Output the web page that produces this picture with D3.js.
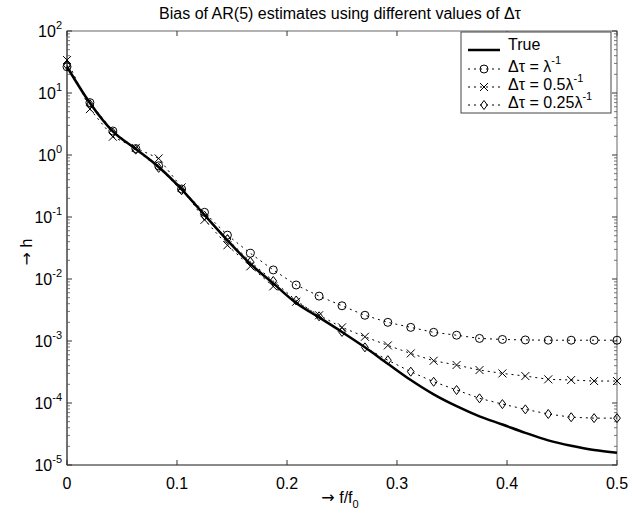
<!DOCTYPE html>
<html>
<head>
<meta charset="utf-8">
<script src="https://cdn.jsdelivr.net/npm/d3@7"></script>
<style>
  body { margin: 0; background: #fff; }
  text { font-family: "Liberation Sans", Arial, sans-serif; fill: #000; }
  .arrow { font-family: "DejaVu Sans", sans-serif; }
</style>
</head>
<body>
<svg id="chart" width="639" height="513"></svg>
<script>
// f/f0 sample points (k/48, k = 0..24)
const freq = d3.range(0, 25).map(k => k / 48);

// true bias curve
const trueVals = [26.5, 6.9, 2.4, 1.25, 0.64, 0.28, 0.108, 0.042, 0.0175, 0.0085, 0.0041,
  0.0024, 0.0014, 7.9e-4, 4.3e-4, 2.35e-4, 1.38e-4, 8.9e-5, 6.1e-5, 4.5e-5, 3.3e-5,
  2.5e-5, 2.04e-5, 1.74e-5, 1.58e-5];
// dtau = 1/lambda
const circVals = [26.5, 7.0, 2.44, 1.27, 0.67, 0.283, 0.119, 0.051, 0.026, 0.014, 0.0080,
  0.0053, 0.0037, 0.0026, 0.0020, 0.00166, 0.00138, 0.00124, 0.0011, 0.00106, 0.00104,
  0.00103, 0.00103, 0.00103, 0.00103];
// dtau = 0.5/lambda
const crossVals = [34, 5.5, 1.97, 1.3, 0.88, 0.30, 0.09, 0.035, 0.016, 0.0076, 0.0043,
  0.0026, 0.00166, 0.00117, 8.5e-4, 6.3e-4, 4.8e-4, 4.1e-4, 3.4e-4, 3.0e-4, 2.72e-4,
  2.41e-4, 2.35e-4, 2.26e-4, 2.26e-4];
// dtau = 0.25/lambda
const diamVals = [28, 6.6, 2.3, 1.22, 0.62, 0.27, 0.105, 0.044, 0.019, 0.0093, 0.0045,
  0.0025, 0.0014, 7.9e-4, 4.9e-4, 3.2e-4, 2.2e-4, 1.62e-4, 1.19e-4, 9.6e-5, 7.9e-5,
  6.65e-5, 5.9e-5, 5.7e-5, 5.7e-5];

const xTicks = [0, 0.1, 0.2, 0.3, 0.4, 0.5];
const yExps = [-5, -4, -3, -2, -1, 0, 1, 2];

const svg = d3.select('#chart');
const pL = 67, pR = 617, pT = 31, pB = 465;

const x = d3.scaleLinear().domain([0, 0.5]).range([pL, pR]);
const y = d3.scaleLog().domain([1e-5, 1e2]).range([pB, pT]);

// title
svg.append('text')
  .attr('x', (pL + pR) / 2 - 2).attr('y', 19)
  .attr('text-anchor', 'middle').style('font-size', '16px')
  .text('Bias of AR(5) estimates using different values of \u0394\u03c4');

// frame
const g = svg.append('g');
g.append('rect')
  .attr('x', pL).attr('y', pT)
  .attr('width', pR - pL).attr('height', pB - pT)
  .attr('fill', 'none').attr('stroke', '#666').attr('stroke-width', 1);
g.append('line')
  .attr('x1', pL).attr('x2', pR).attr('y1', pB).attr('y2', pB)
  .attr('stroke', '#8a8a8a').attr('stroke-width', 2);
g.append('line')
  .attr('x1', pL).attr('x2', pL).attr('y1', pT).attr('y2', pB)
  .attr('stroke', '#333').attr('stroke-width', 1);

// x ticks (inside, bottom and top)
xTicks.forEach(t => {
  g.append('line').attr('x1', x(t)).attr('x2', x(t)).attr('y1', pB).attr('y2', pB - 5)
    .attr('stroke', '#333');
  g.append('line').attr('x1', x(t)).attr('x2', x(t)).attr('y1', pT).attr('y2', pT + 5)
    .attr('stroke', '#333');
  svg.append('text')
    .attr('x', x(t)).attr('y', 489)
    .attr('text-anchor', 'middle').style('font-size', '16px')
    .text(t === 0 ? '0' : d3.format('.1f')(t));
});

// y ticks, major + minor on both sides
yExps.forEach(e => {
  const v = Math.pow(10, e);
  [[pL, 1], [pR, -1]].forEach(([px, dir]) => {
    g.append('line').attr('x1', px).attr('x2', px + dir * 5).attr('y1', y(v)).attr('y2', y(v))
      .attr('stroke', '#333');
    if (e < 2) {
      d3.range(2, 10).forEach(m => {
        g.append('line').attr('x1', px).attr('x2', px + dir * 3)
          .attr('y1', y(m * v)).attr('y2', y(m * v))
          .attr('stroke', '#555').attr('stroke-width', 0.8);
      });
    }
  });
  const lab = svg.append('text')
    .attr('x', pL - 5).attr('y', y(v) + 6)
    .attr('text-anchor', 'end').style('font-size', '16px');
  lab.append('tspan').text('10');
  lab.append('tspan').attr('dy', -8).style('font-size', '11px').text(e);
});

// axis labels
const yl = svg.append('text')
  .attr('transform', `translate(32,${(pT + pB) / 2 + 4}) rotate(-90)`)
  .attr('text-anchor', 'middle').style('font-size', '16px');
yl.append('tspan').attr('class', 'arrow').text('\u2192');
yl.append('tspan').text(' h');
const xl = svg.append('text')
  .attr('x', (pL + pR) / 2 - 2).attr('y', 503)
  .attr('text-anchor', 'middle').style('font-size', '16px');
xl.append('tspan').attr('class', 'arrow').text('\u2192');
xl.append('tspan').text(' f/f');
xl.append('tspan').attr('dy', 5).style('font-size', '11px').text('0');

// lines
const line = vals => d3.line()
  .x((d, i) => x(freq[i]))
  .y(d => y(d))(vals);
const smooth = vals => d3.line()
  .curve(d3.curveMonotoneX)
  .x((d, i) => x(freq[i]))
  .y(d => y(d))(vals);

const series = [
  { vals: circVals, marker: 'circle' },
  { vals: crossVals, marker: 'cross' },
  { vals: diamVals, marker: 'diamond' }
];

function drawMarker(sel, kind, cx, cy) {
  if (kind === 'circle') {
    sel.append('circle').attr('cx', cx).attr('cy', cy).attr('r', 4)
      .attr('fill', 'none').attr('stroke', '#000').attr('stroke-width', 1);
  } else if (kind === 'cross') {
    const s = 4;
    sel.append('path')
      .attr('d', `M${cx - s},${cy - s}L${cx + s},${cy + s}M${cx - s},${cy + s}L${cx + s},${cy - s}`)
      .attr('stroke', '#000').attr('stroke-width', 1).attr('fill', 'none');
  } else {
    const s = 4.5;
    sel.append('path')
      .attr('d', `M${cx},${cy - s}L${cx + s * 0.75},${cy}L${cx},${cy + s}L${cx - s * 0.75},${cy}Z`)
      .attr('stroke', '#000').attr('stroke-width', 1).attr('fill', 'none');
  }
}

series.forEach(s => {
  svg.append('path')
    .attr('d', line(s.vals))
    .attr('fill', 'none').attr('stroke', '#000')
    .attr('stroke-width', 1).attr('stroke-dasharray', '2,4');
  const mg = svg.append('g');
  s.vals.forEach((v, i) => drawMarker(mg, s.marker, x(freq[i]), y(v)));
});

svg.append('path')
  .attr('d', smooth(trueVals))
  .attr('fill', 'none').attr('stroke', '#000').attr('stroke-width', 2.5);

// legend
const lg = svg.append('g');
lg.append('rect')
  .attr('x', 461).attr('y', 32).attr('width', 150).attr('height', 81)
  .attr('fill', '#fff').attr('stroke', '#444').attr('stroke-width', 1);
const legendRows = [
  { label: 'True', marker: null, sup: null, y: 50, ty: 50 },
  { label: '\u0394\u03c4 = \u03bb', marker: 'circle', sup: '-1', y: 69, ty: 72 },
  { label: '\u0394\u03c4 = 0.5\u03bb', marker: 'cross', sup: '-1', y: 87, ty: 90 },
  { label: '\u0394\u03c4 = 0.25\u03bb', marker: 'diamond', sup: '-1', y: 105, ty: 108 }
];
legendRows.forEach(r => {
  const ln = lg.append('line')
    .attr('x1', 468).attr('x2', 500).attr('y1', r.y).attr('y2', r.y)
    .attr('stroke', '#000');
  if (r.marker) {
    ln.attr('stroke-width', 1).attr('stroke-dasharray', '2,4');
    drawMarker(lg, r.marker, 484, r.y);
  } else {
    ln.attr('stroke-width', 2.5);
  }
  const t = lg.append('text')
    .attr('x', 508).attr('y', r.ty).style('font-size', '16px');
  t.append('tspan').text(r.label);
  if (r.sup) t.append('tspan').attr('dy', -8).style('font-size', '11px').text(r.sup);
});
</script>
</body>
</html>
